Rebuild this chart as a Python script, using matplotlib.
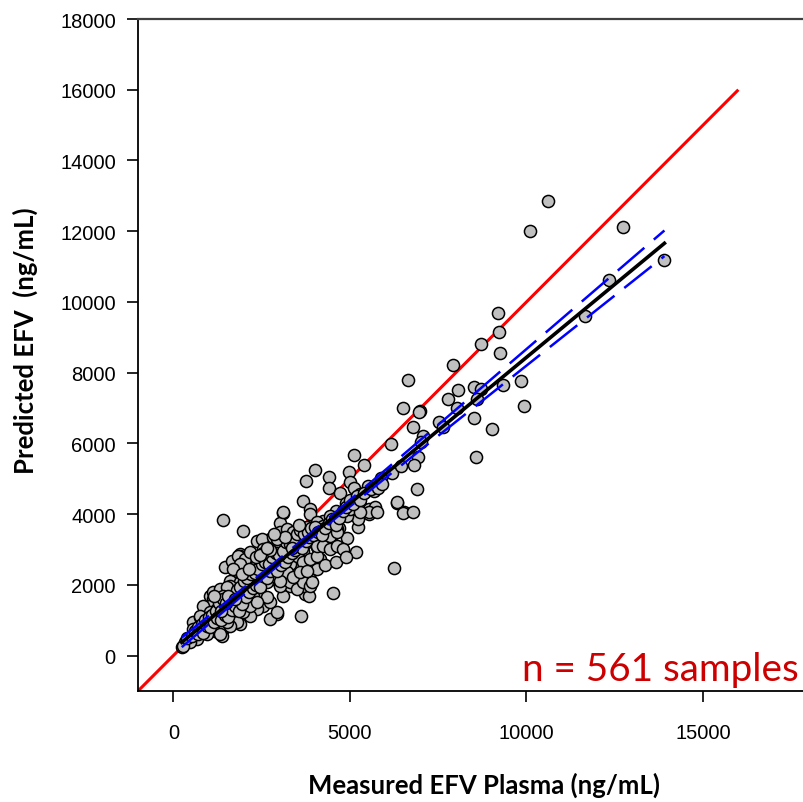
import numpy as np
import matplotlib
matplotlib.use("Agg")
import matplotlib.pyplot as plt

# measured vs predicted EFV (ng/mL)
measured = [
    10613, 10103, 12735, 13906, 12339, 11651, 9180, 9217, 8699, 9246, 7924, 6651, 9831, 6492, 8066, 7766,
    8502, 8699, 9322, 9916, 6982, 6960, 8586, 8020, 8510, 7528, 7641, 6792, 7058, 7001, 9019, 8558,
    6933, 6820, 6152, 5114, 5405,
    4019, 3747, 4406, 4981, 5001, 4406, 4718, 5114, 5284, 5519, 5689, 5869, 3662, 4888, 4605, 3869,
    3869, 3096, 5284, 5550, 5650, 5700, 6339, 6529, 5190,
    3020, 4245, 4698, 4463, 5170, 4907, 5236, 5236, 5538, 5538, 5756, 6322, 6509, 6775, 6888, 6254,
    4511, 3605, 1398, 1981, 1463, 3727, 3850, 2926, 2519, 2737,
    238, 473, 566, 331, 662, 849, 1039, 1180, 1415, 1370, 990, 1132, 1322, 1511, 1698, 1039,
    1273, 1605, 1653, 2029, 1840, 2123, 1888, 1746, 2171, 2454, 2547, 2737, 2454, 2830, 2643, 2360,
    2830, 566, 756,
    2530, 2737, 3114, 3209, 3538, 3775, 4058, 4245, 4434, 4624, 4341, 4528, 4058, 4151, 4058, 3775,
    3680, 3586, 3492, 3209, 3020, 3209, 2926, 2737, 2643, 2502, 2264, 1981, 1888, 2171, 1794, 2077,
    2360, 2643, 2926, 3209, 3396, 3869, 3680, 1605, 1888, 2171, 2454, 3020, 3302,
    1888, 2547, 2360, 2737, 3114, 3020, 3302, 3492, 3680, 3869, 3916, 2926, 2171, 1794, 1605, 1132,
    1322, 945, 662, 473, 283,
    1132, 1039, 1605, 1888, 2360, 2522, 2547, 2926, 3068, 3255,
    2360, 2547, 2737, 2926, 3114, 3302, 3492, 3680, 3869, 4058, 2643, 2830, 3209, 3396, 3586, 3775,
    3020, 3492, 3680, 3869, 4058, 4245, 4434, 4624, 4058, 4245, 4434, 4624, 4811, 4434, 4624, 4907,
    5001, 5284, 3020, 3209, 3396, 2830, 1840, 2029, 2171, 1888, 1698, 1132, 1322, 1511, 1415, 1794,
    1981, 1888, 2077, 2264, 2643, 849, 1039, 1228, 1415, 1605, 1794, 1981, 2171, 2360, 1228, 1511,
    945, 756, 566, 756,
    400, 520, 600, 700, 800, 900, 1000, 1100, 1200, 700, 850, 950, 1050, 1150, 1250, 1350,
    1450, 1550, 1650, 1750, 1850, 1950, 2050, 2150, 2250, 2350, 2450, 2550, 2650, 2750, 2850, 2950,
    3050, 3150, 3250, 3350, 3450, 3550, 3650, 3750, 3850, 3950, 1300, 1400, 1500, 1700, 1800, 1900,
    2000, 2100, 2200, 2300, 2400, 2500, 2600, 2700, 2800, 2900, 3000, 3100, 3200, 3300, 3400, 3500,
    3600, 3700, 3800, 3900, 4000, 4100, 4200, 4300, 4400, 4500, 4600, 4700, 4800, 4900, 5000, 5100,
    5200, 5300, 5400, 5600, 5800, 6200, 6450, 5900, 4300, 4600, 4900,
    1150, 1350, 1550, 1750, 1950, 2150, 2350, 2550, 2750, 2950, 3150, 3350, 3550, 2450, 2650, 2850,
]
predicted = [
    12846, 12006, 12128, 11178, 10621, 9595, 9680, 9151, 8812, 8557, 8227, 7794, 7775, 7011, 7511, 7257,
    7596, 7540, 7661, 7059, 6926, 6880, 7257, 6994, 6711, 6615, 6457, 6457, 6219, 6032, 6409, 5626,
    5609, 5391, 5985, 5674, 5400,
    5250, 4947, 5043, 5202, 4919, 4732, 4600, 4732, 4571, 4789, 4665, 5015, 4382, 4317, 4099, 4147,
    4006, 4034, 4260, 4150, 4100, 4200, 4317, 4053, 3940,
    3752, 3817, 3610, 3093, 2923, 3319, 3640, 3865, 4000, 4060, 4053, 4336, 4034, 4053, 4713, 2471,
    1773, 1114, 3836, 3534, 2499, 1744, 1700, 1179, 3180, 3300,
    237, 472, 613, 379, 944, 803, 990, 707, 755, 565, 1227, 1414, 1227, 1320, 1510, 1696,
    1792, 1792, 2686, 2358, 1979, 1272, 896, 1131, 1651, 1792, 1462, 1037, 2168, 2168, 2451, 2544,
    2544, 944, 1086,
    3251, 3206, 4053, 3440, 3488, 3630, 3771, 3675, 3488, 3582, 3299, 3158, 3064, 2734, 2451, 3206,
    2968, 2734, 2544, 3110, 3016, 2734, 2686, 2923, 2734, 2592, 2734, 2686, 2875, 2875, 2403, 2358,
    2451, 2358, 2262, 2310, 2168, 2168, 1979, 2120, 2027, 1979, 2075, 2075, 1979,
    2075, 1414, 1320, 1510, 1696, 1979, 2075, 1886, 2075, 1979, 2092, 1227, 1131, 944, 848, 755,
    613, 613, 472, 379, 283,
    1603, 1414, 1979, 2827, 3251, 3299, 3016, 3110, 3393, 3016,
    2640, 2499, 2734, 2544, 2734, 2592, 2827, 2640, 2734, 2827, 2075, 2262, 2358, 2216, 2358, 2403,
    2120, 3206, 3393, 3299, 3488, 3582, 3393, 3488, 3110, 3110, 3016, 3110, 3016, 3958, 3865, 3958,
    4147, 4053, 3488, 3582, 3488, 3347, 2827, 2734, 2923, 2592, 2451, 1792, 1886, 1934, 1696, 1696,
    1792, 1510, 1555, 1696, 1651, 1414, 1227, 1320, 1131, 1227, 1320, 1227, 1414, 1510, 1037, 944,
    1037, 1131, 755, 662,
    500, 560, 700, 800, 900, 1000, 1100, 1150, 1250, 600, 650, 850, 800, 950, 1050, 1000,
    1150, 1100, 1300, 1400, 1250, 1450, 1650, 1800, 1900, 2000, 1950, 2250, 2200, 2400, 2500, 2400,
    2550, 2650, 2800, 2900, 3000, 3100, 3050, 3250, 3350, 3400, 1500, 1600, 1500, 1700, 1850, 1950,
    2100, 2200, 2300, 2350, 2450, 2600, 2650, 2600, 2800, 2900, 2850, 2950, 3200, 3150, 3300, 3450,
    3550, 3450, 3500, 3600, 3650, 3500, 3400, 3600, 3750, 3850, 3700, 3900, 4100, 4200, 4400, 4300,
    4500, 4400, 4600, 4700, 4750, 5150, 5350, 4850, 2550, 2650, 2800,
    1700, 1250, 1700, 1600, 2300, 2450, 2800, 2900, 3000, 3300, 3350, 3050, 3700, 2850, 3050, 3450,
]

identity_ends = [-1000, 16000]
x_ticks = [0, 5000, 10000, 15000]
y_ticks = list(range(0, 18001, 2000))

x = np.array(measured, dtype=float)
y = np.array(predicted, dtype=float)

# linear regression + 95% confidence band
slope, intercept = np.polyfit(x, y, 1)
n = len(x)
resid = y - (slope * x + intercept)
s = np.sqrt(np.sum(resid ** 2) / (n - 2))
xf = np.linspace(x.min(), x.max(), 200)
yf = slope * xf + intercept
half = 1.96 * s * np.sqrt(1.0 / n + (xf - x.mean()) ** 2 / np.sum((x - x.mean()) ** 2))

fig = plt.figure(figsize=(8.04, 8.03), dpi=100)
ax = fig.add_axes([138 / 804, (803 - 692) / 803, (809 - 138) / 804, (692 - 20) / 803])

ax.plot(identity_ends, identity_ends, color="#ff0000", lw=2.2, zorder=2, solid_capstyle="butt")
ax.scatter(x, y, s=76, facecolor="#c0c0c0", edgecolor="black", linewidth=1.1, zorder=3)
ax.plot(xf, yf + half, color="#0000ff", lw=1.8, dashes=(14, 5), zorder=4)
ax.plot(xf, yf - half, color="#0000ff", lw=1.8, dashes=(14, 5), zorder=4)
ax.plot(xf, yf, color="black", lw=2.6, zorder=5)

ax.set_xlim(-1000, 18000)
ax.set_ylim(-1000, 18000)
ax.set_xticks(x_ticks)
ax.set_yticks(y_ticks)
ax.tick_params(direction="out", length=8, width=1.2, labelsize=14.5, colors="black")
ax.tick_params(axis="x", pad=15)
ax.tick_params(axis="y", pad=8)
for lab in ax.get_xticklabels() + ax.get_yticklabels():
    lab.set_fontfamily("Liberation Sans")
ax.spines["left"].set_linewidth(1.3)
ax.spines["bottom"].set_linewidth(1.3)
ax.spines["top"].set_color("#404040")
ax.spines["top"].set_linewidth(1.6)
ax.spines["right"].set_visible(False)

fig.text(484 / 804, 1 - 785 / 803, "Measured EFV Plasma (ng/mL)", ha="center", va="center",
         fontsize=18.5, fontweight="bold", family="Lato")
fig.text(25 / 804, 1 - 341 / 803, "Predicted EFV  (ng/mL)", ha="center", va="center",
         rotation=90, fontsize=18.5, fontweight="bold", family="Lato")
fig.text(660 / 804, 1 - 681 / 803, "n = 561 samples", ha="center", va="baseline",
         fontsize=27.8, color="#cc0000", family="Lato")

fig.savefig("out.png", dpi=100)
